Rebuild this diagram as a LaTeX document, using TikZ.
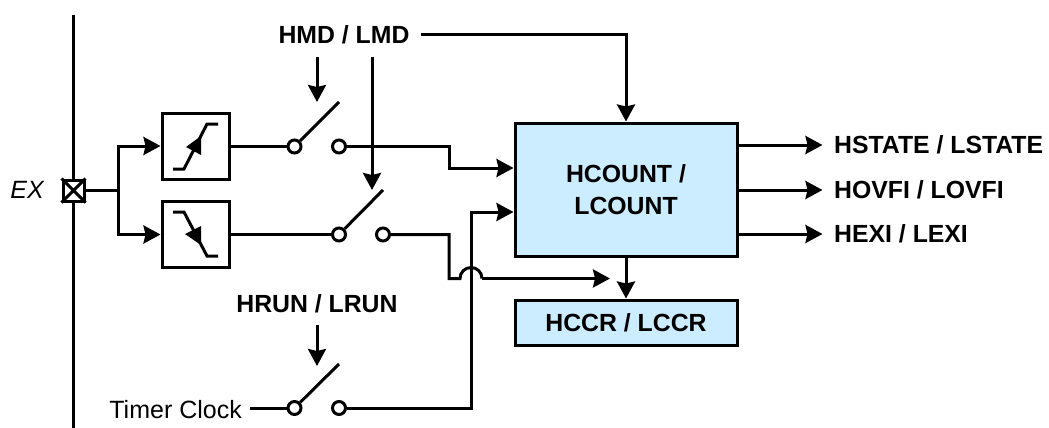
\documentclass[tikz,border=0pt]{standalone}
\usepackage{fontspec}
\setmainfont{Liberation Sans}
\usetikzlibrary{arrows.meta}
\definecolor{boxblue}{HTML}{CCECFF}
\tikzset{
  wire/.style={line width=3pt},
  arr/.style={wire,-{Stealth[length=17pt,width=18pt,inset=2pt]}},
  blk/.style={draw,wire,inner sep=0pt,minimum width=67pt,minimum height=66pt},
  bluebox/.style={draw,wire,fill=boxblue,inner sep=0pt,minimum width=222pt,align=center,font=\bfseries\fontsize{24.8}{32}\selectfont},
  pole/.style={circle,draw,wire,fill=white,inner sep=0pt,minimum size=13pt},
  lab/.style={font=\bfseries\fontsize{24.8}{30}\selectfont,inner sep=0pt},
  plain/.style={font=\fontsize{25}{30}\selectfont,inner sep=0pt},
}
\begin{document}
\begin{tikzpicture}[x=1pt,y=-1pt]
\useasboundingbox (0,0) rectangle (1049,428);
% bus
\coordinate (bt) at (73.5,15);
\coordinate (bb) at (73.5,428);
\draw[wire] (bt) -- (bb);
\node[draw,wire,fill=white,minimum size=21pt,inner sep=0pt] (ex) at (73.5,190.5) {};
\draw[wire] (ex.north west) -- (ex.south east) (ex.north east) -- (ex.south west);
\node[plain,font=\itshape\fontsize{25}{30}\selectfont,anchor=east] (exl) at (44,190) {EX};
% filters
\node[blk] (f1) at (195.5,146) {};
\node[blk] (f2) at (195.5,234.5) {};
\coordinate (j) at (118,190.5);
\draw[wire] (ex) -- (j);
\draw[arr] (j) |- (f1);
\draw[arr] (j) |- (f2);
\draw[wire] (173,169) -- (184,169) -- (207,124) -- (218,124);
\fill (201,136) -- (186,147) -- (201,155) -- cycle;
\draw[wire] (173,212) -- (184,212) -- (207,256) -- (218,256);
\fill (201,226) -- (185,234) -- (201,245) -- cycle;
% switches
\node[pole] (s1a) at (294.5,146.5) {};
\node[pole] (s1b) at (339,146.5) {};
\node[pole] (s2a) at (339,234.5) {};
\node[pole] (s2b) at (383,234.5) {};
\node[pole] (s3a) at (294.5,408) {};
\node[pole] (s3b) at (339,408) {};
\coordinate (b1) at (339,102);
\coordinate (b2) at (383,190);
\coordinate (b3) at (339,364);
\draw[wire] (s1a) -- (b1);
\draw[wire] (s2a) -- (b2);
\draw[wire] (s3a) -- (b3);
\draw[wire] (f1.east |- s1a) -- (s1a);
\draw[wire] (f2.east |- s2a) -- (s2a);
% labels
\node[lab] (hmd) at (344,35) {HMD / LMD};
\node[lab] (hrun) at (317,304) {HRUN / LRUN};
\node[plain,anchor=east] (tc) at (242,410) {Timer Clock};
\draw[wire] (tc.east) ++(8,-2) coordinate (tcs) -- (s3a);
% main boxes
\node[bluebox,minimum height=133pt] (cnt) at (626,189.5) {HCOUNT /\\LCOUNT};
\node[bluebox,minimum height=45pt] (ccr) at (626,322.5) {HCCR / LCCR};
% control arrows
\coordinate (c1) at (317,57);
\coordinate (c1e) at (317,102);
\coordinate (c2) at (372,57);
\coordinate (c2e) at (372,190);
\coordinate (c3) at (317,325);
\coordinate (c3e) at (317,366);
\draw[arr] (c1) -- (c1e);
\draw[arr] (c2) -- (c2e);
\draw[arr] (c3) -- (c3e);
\coordinate (t0) at (421,35);
\coordinate (t1) at (626,35);
\draw[arr] (t0) -- (t1) -- (cnt.north);
\draw[arr] (cnt.south) -- (ccr.north);
% inputs
\draw[arr] (s1b) -- (449,146.5) |- (cnt.west |- 0,168);
\draw[arr] (s3b) -- (471,408) |- (cnt.west |- 0,212);
\coordinate (hopl) at (460,278.5);
\coordinate (hopr) at (482,278.5);
\coordinate (tip) at (610,278.5);
\draw[wire] (s2b) -- (449,234.5) |- (hopl) arc[start angle=180,end angle=0,radius=11pt];
\draw[arr] (hopr) -- (tip);
% outputs
\node[lab,anchor=west] (o1) at (834,145) {HSTATE / LSTATE};
\node[lab,anchor=west] (o2) at (834,190) {HOVFI / LOVFI};
\node[lab,anchor=west] (o3) at (834,234) {HEXI / LEXI};
\draw[arr] (cnt.east |- o1) -- ++(84,0) coordinate (e1);
\draw[arr] (cnt.east |- o2) -- ++(84,0) coordinate (e2);
\draw[arr] (cnt.east |- o3) -- ++(84,0) coordinate (e3);
\end{tikzpicture}
\end{document}
